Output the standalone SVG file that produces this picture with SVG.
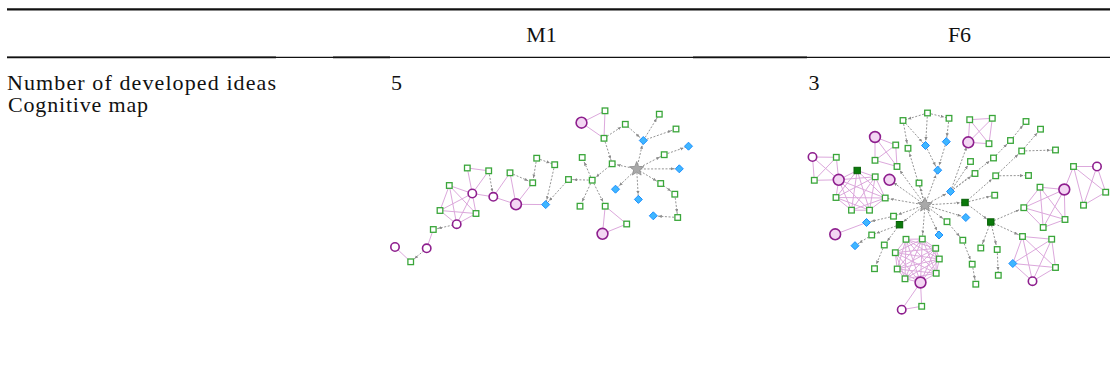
<svg xmlns="http://www.w3.org/2000/svg" xmlns:xlink="http://www.w3.org/1999/xlink" width="1112" height="371" viewBox="0 0 1112 371">
  <style>
    .txt { font-family: "Liberation Serif", "Times New Roman", serif; font-size: 22px; fill: #111; }
    .rule { stroke: #111; fill: none; }
    .de { stroke: #959595; stroke-width: 1; stroke-dasharray: 2 1.6; fill: none; marker-end: url(#ah); }
    .pe { stroke: #dca8dc; stroke-width: 1; fill: none; }
    .sq { fill: #ffffff; stroke: #3aa63a; stroke-width: 1.3; }
    .dg { fill: #0b7a0b; stroke: #066006; stroke-width: 1; }
    .dia { fill: #3fb6ff; stroke: #1d8fff; stroke-width: 1; }
    .co { fill: #ffffff; stroke: #8e1f8e; stroke-width: 1.6; }
    .cf { fill: #f3d6f3; stroke: #8e1f8e; stroke-width: 1.6; }
    .st { fill: #a9a9a9; stroke: #8a8a8a; stroke-width: 0.8; }
  </style>
  <defs>
    <marker id="ah" markerUnits="userSpaceOnUse" markerWidth="9" markerHeight="4" refX="8.5" refY="1.6" orient="auto">
      <path d="M0,0 L3.4,1.6 L0,3.2 Z" fill="#8a8a8a"/>
    </marker>
    <rect id="sq" class="sq" x="-2.8" y="-2.8" width="5.6" height="5.6"/>
    <rect id="dg" class="dg" x="-3.2" y="-3.2" width="6.4" height="6.4"/>
    <path id="dia" class="dia" d="M0,-4 L4,0 L0,4 L-4,0 Z"/>
    <circle id="co" class="co" r="4.2"/>
    <circle id="cf" class="cf" r="5.4"/>
    <path id="st" class="st" d="M0,-7.5 L1.88,-2.59 L7.13,-2.32 L3.04,0.99 L4.41,6.07 L0,3.2 L-4.41,6.07 L-3.04,0.99 L-7.13,-2.32 L-1.88,-2.59 Z"/>
  </defs>

  <!-- table rules -->
  <g id="table">
    <line class="rule" x1="7" y1="9.3" x2="1110" y2="9.3" stroke-width="2.2"/>
    <line class="rule" x1="7" y1="57.4" x2="1110" y2="57.4" stroke-width="1.4" stroke="#2a2a2a"/>
    <line class="rule" x1="7" y1="57.4" x2="276" y2="57.4" stroke-width="1.9"/>
    <line class="rule" x1="333" y1="57.4" x2="390" y2="57.4" stroke-width="1.9"/>
    <line class="rule" x1="693" y1="57.4" x2="807" y2="57.4" stroke-width="1.9"/>
  </g>

  <!-- table text -->
  <g id="labels">
    <text class="txt" x="541.5" y="41.7" text-anchor="middle">M1</text>
    <text class="txt" x="959.5" y="41.7" text-anchor="middle">F6</text>
    <text class="txt" x="7" y="90" textLength="269" lengthAdjust="spacing">Number of developed ideas</text>
    <text class="txt" x="8" y="112" textLength="140" lengthAdjust="spacing">Cognitive map</text>
    <text class="txt" x="391" y="90">5</text>
    <text class="txt" x="808.5" y="90">3</text>
  </g>

  <!-- M1 map: connectors -->
  <g id="m1-connectors">
    <path class="pe" d="M581.5 122.7 L605 110.8 L604 138.3 Z"/>
    <path class="pe" d="M605.2 206.2 L626.7 224 L602.5 233.8 Z"/>
    <path class="pe" d="M510 172.8 L516 204.3 M510 172.8 L493.3 196.8 M532.7 182.8 L516 204.3 M516 204.3 L545.7 204.6 M493.3 196.8 L516 204.3"/>
    <path class="pe" d="M467.3 168 L488.7 170.8 L472.3 193.5 Z M472.3 193.5 L493.3 196.8"/>
    <path class="pe" d="M449.3 185.5 L472.3 193.5 L476 213.5 L456.7 224.2 L440 210.5 Z M449.3 185.5 L476 213.5 L440 210.5 L472.3 193.5 L456.7 224.2 Z"/>
    <path class="pe" d="M433.3 229.5 L426.7 248.3 M410.7 261.8 L395 247"/>
    <line class="de" x1="604" y1="138.3" x2="625.3" y2="124.3"/>
    <line class="de" x1="625.3" y1="124.3" x2="643.3" y2="140.5"/>
    <line class="de" x1="643.3" y1="140.5" x2="659.3" y2="114.2"/>
    <line class="de" x1="643.3" y1="140.5" x2="676" y2="129"/>
    <line class="de" x1="604" y1="138.3" x2="612.2" y2="163.8"/>
    <line class="de" x1="636.7" y1="169" x2="612.2" y2="163.8"/>
    <line class="de" x1="636.7" y1="169" x2="643.3" y2="140.5"/>
    <line class="de" x1="636.7" y1="169" x2="664.2" y2="154.7"/>
    <line class="de" x1="664.2" y1="154.7" x2="688.5" y2="146.2"/>
    <line class="de" x1="636.7" y1="169" x2="679.3" y2="168.8"/>
    <line class="de" x1="636.7" y1="169" x2="660.7" y2="183.5"/>
    <line class="de" x1="660.7" y1="183.5" x2="674.8" y2="194.2"/>
    <line class="de" x1="674.8" y1="194.2" x2="677.7" y2="217.5"/>
    <line class="de" x1="677.7" y1="217.5" x2="653.3" y2="215.8"/>
    <line class="de" x1="636.7" y1="169" x2="638.4" y2="199.4"/>
    <line class="de" x1="636.7" y1="169" x2="615.5" y2="189.2"/>
    <line class="de" x1="612.2" y1="163.8" x2="592.2" y2="180.2"/>
    <line class="de" x1="592.2" y1="180.2" x2="582.2" y2="157.5"/>
    <line class="de" x1="592.2" y1="180.2" x2="568.5" y2="179.5"/>
    <line class="de" x1="592.2" y1="180.2" x2="580" y2="206.2"/>
    <line class="de" x1="592.2" y1="180.2" x2="605.2" y2="206.2"/>
    <line class="de" x1="568.5" y1="179.5" x2="545.7" y2="204.6"/>
    <line class="de" x1="536.7" y1="158.2" x2="554.7" y2="164.7"/>
    <line class="de" x1="536.7" y1="158.2" x2="532.7" y2="182.8"/>
    <line class="de" x1="554.7" y1="164.7" x2="545.7" y2="204.6"/>
    <line class="de" x1="510" y1="172.8" x2="532.7" y2="182.8"/>
    <line class="de" x1="488.7" y1="170.8" x2="493.3" y2="196.8"/>
    <line class="de" x1="456.7" y1="224.2" x2="433.3" y2="229.5"/>
    <line class="de" x1="426.7" y1="248.3" x2="410.7" y2="261.8"/>
  </g>

  <!-- M1 map: nodes -->
  <g id="m1-s" transform="translate(636.7 169)"><use xlink:href="#st"/></g>
  <g id="m1-c1" transform="translate(581.5 122.7)"><use xlink:href="#cf"/></g>
  <g id="m1-g1" transform="translate(605 110.8)"><use xlink:href="#sq"/></g>
  <g id="m1-g2" transform="translate(625.3 124.3)"><use xlink:href="#sq"/></g>
  <g id="m1-g3" transform="translate(659.3 114.2)"><use xlink:href="#sq"/></g>
  <g id="m1-d1" transform="translate(643.3 140.5)"><use xlink:href="#dia"/></g>
  <g id="m1-g4" transform="translate(676 129)"><use xlink:href="#sq"/></g>
  <g id="m1-g5" transform="translate(604 138.3)"><use xlink:href="#sq"/></g>
  <g id="m1-d2" transform="translate(688.5 146.2)"><use xlink:href="#dia"/></g>
  <g id="m1-g6" transform="translate(664.2 154.7)"><use xlink:href="#sq"/></g>
  <g id="m1-d3" transform="translate(679.3 168.8)"><use xlink:href="#dia"/></g>
  <g id="m1-g7" transform="translate(612.2 163.8)"><use xlink:href="#sq"/></g>
  <g id="m1-g8" transform="translate(582.2 157.5)"><use xlink:href="#sq"/></g>
  <g id="m1-g9" transform="translate(592.2 180.2)"><use xlink:href="#sq"/></g>
  <g id="m1-g10" transform="translate(568.5 179.5)"><use xlink:href="#sq"/></g>
  <g id="m1-d4" transform="translate(615.5 189.2)"><use xlink:href="#dia"/></g>
  <g id="m1-g11" transform="translate(660.7 183.5)"><use xlink:href="#sq"/></g>
  <g id="m1-g12" transform="translate(674.8 194.2)"><use xlink:href="#sq"/></g>
  <g id="m1-d5" transform="translate(638.4 199.4)"><use xlink:href="#dia"/></g>
  <g id="m1-d6" transform="translate(653.3 215.8)"><use xlink:href="#dia"/></g>
  <g id="m1-g13" transform="translate(677.7 217.5)"><use xlink:href="#sq"/></g>
  <g id="m1-g14" transform="translate(580 206.2)"><use xlink:href="#sq"/></g>
  <g id="m1-g15" transform="translate(605.2 206.2)"><use xlink:href="#sq"/></g>
  <g id="m1-g16" transform="translate(626.7 224)"><use xlink:href="#sq"/></g>
  <g id="m1-c2" transform="translate(602.5 233.8)"><use xlink:href="#cf"/></g>
  <g id="m1-d7" transform="translate(545.7 204.6)"><use xlink:href="#dia"/></g>
  <g id="m1-g17" transform="translate(536.7 158.2)"><use xlink:href="#sq"/></g>
  <g id="m1-g18" transform="translate(554.7 164.7)"><use xlink:href="#sq"/></g>
  <g id="m1-g19" transform="translate(532.7 182.8)"><use xlink:href="#sq"/></g>
  <g id="m1-g20" transform="translate(510 172.8)"><use xlink:href="#sq"/></g>
  <g id="m1-c3" transform="translate(516 204.3)"><use xlink:href="#cf"/></g>
  <g id="m1-c4" transform="translate(493.3 196.8)"><use xlink:href="#co"/></g>
  <g id="m1-g21" transform="translate(488.7 170.8)"><use xlink:href="#sq"/></g>
  <g id="m1-g22" transform="translate(467.3 168)"><use xlink:href="#sq"/></g>
  <g id="m1-c5" transform="translate(472.3 193.5)"><use xlink:href="#co"/></g>
  <g id="m1-g23" transform="translate(449.3 185.5)"><use xlink:href="#sq"/></g>
  <g id="m1-g24" transform="translate(440 210.5)"><use xlink:href="#sq"/></g>
  <g id="m1-g25" transform="translate(476 213.5)"><use xlink:href="#sq"/></g>
  <g id="m1-c6" transform="translate(456.7 224.2)"><use xlink:href="#co"/></g>
  <g id="m1-g26" transform="translate(433.3 229.5)"><use xlink:href="#sq"/></g>
  <g id="m1-c7" transform="translate(426.7 248.3)"><use xlink:href="#co"/></g>
  <g id="m1-c8" transform="translate(395 247)"><use xlink:href="#co"/></g>
  <g id="m1-g27" transform="translate(410.7 261.8)"><use xlink:href="#sq"/></g>

  <!-- F6 map: connectors -->
  <g id="f6-connectors">
    <path class="pe" d="M969.7 119.7 L992.3 118.3 L989 143.7 L968.3 142.3 Z M969.7 119.7 L989 143.7 M992.3 118.3 L968.3 142.3"/>
    <path class="pe" d="M875 137 L895.7 145 L897 166.5 L875 160.3 Z M875 137 L897 166.5 M895.7 145 L875 160.3"/>
    <path class="pe" d="M812.5 157 L836.3 157.3 L838.7 179.8 L814.3 180.3 Z M812.5 157 L838.7 179.8 M836.3 157.3 L814.3 180.3"/>
    <path class="pe" d="M857.2 170.5 L875.2 176.8 L885.2 198 L869.5 210.2 L851.5 210.2 L836 197.5 L838.7 179.8 Z M857.2 170.5 L885.2 198 L851.5 210.2 L838.7 179.8 L875.2 176.8 L869.5 210.2 L836 197.5 Z M857.2 170.5 L869.5 210.2 L838.7 179.8 L885.2 198 L836 197.5 L875.2 176.8 L851.5 210.2 Z"/>
    <path class="pe" d="M1040 187.2 L1064.3 189.5 L1065 219.5 L1043.2 227.5 L1023.8 207.7 Z M1040 187.2 L1065 219.5 L1023.8 207.7 L1064.3 189.5 L1043.2 227.5 Z M1064.3 189.5 L1073.5 166.5"/>
    <path class="pe" d="M1073.5 166.5 L1097 166.5 L1105.7 192.2 L1083.5 205.2 Z M1073.5 166.5 L1105.7 192.2 M1097 166.5 L1083.5 205.2"/>
    <path class="pe" d="M1022.5 236.5 L1051.7 239.2 L1055.5 267.5 L1032.5 281.2 L1012.8 263.5 Z M1022.5 236.5 L1055.5 267.5 L1012.8 263.5 L1051.7 239.2 L1032.5 281.2 Z"/>
    <path class="pe" d="M906 239.3 L922.3 239 L935.7 248.3 L939.3 259 L936.2 273.3 L920.5 282.5 L905 278.8 L897.2 269 L895.3 252.7 Z M906 239.3 L935.7 248.3 L936.2 273.3 L905 278.8 L895.3 252.7 L922.3 239 L939.3 259 L920.5 282.5 L897.2 269 Z M906 239.3 L939.3 259 L905 278.8 Z M922.3 239 L936.2 273.3 L897.2 269 Z M935.7 248.3 L920.5 282.5 L895.3 252.7 Z M906 239.3 L936.2 273.3 L895.3 252.7 L939.3 259 L897.2 269 L935.7 248.3 L905 278.8 L922.3 239 L920.5 282.5 Z"/>
    <path class="pe" d="M920.5 282.5 L921.7 306.3 L901.7 309.7 Z M866.5 222.5 L835.2 234.3"/>
    <line class="de" x1="927.5" y1="113" x2="903" y2="120.5"/>
    <line class="de" x1="927.5" y1="113" x2="949" y2="118.3"/>
    <line class="de" x1="927.5" y1="113" x2="925.5" y2="145.5"/>
    <line class="de" x1="903" y1="120.5" x2="925.5" y2="145.5"/>
    <line class="de" x1="903" y1="120.5" x2="908" y2="148.3"/>
    <line class="de" x1="949" y1="118.3" x2="946.3" y2="141.7"/>
    <line class="de" x1="925.5" y1="145.5" x2="937.7" y2="170.2"/>
    <line class="de" x1="946.3" y1="141.7" x2="937.7" y2="170.2"/>
    <line class="de" x1="925" y1="205" x2="937.7" y2="170.2"/>
    <line class="de" x1="925" y1="205" x2="908" y2="148.3"/>
    <line class="de" x1="925" y1="205" x2="919" y2="183"/>
    <line class="de" x1="925" y1="205" x2="897" y2="166.5"/>
    <line class="de" x1="925" y1="205" x2="889.5" y2="179.8"/>
    <line class="de" x1="925" y1="205" x2="885.2" y2="198"/>
    <line class="de" x1="925" y1="205" x2="950.5" y2="191.5"/>
    <line class="de" x1="950.5" y1="191.5" x2="968.3" y2="142.3"/>
    <line class="de" x1="950.5" y1="191.5" x2="970.5" y2="161.5"/>
    <line class="de" x1="950.5" y1="191.5" x2="975" y2="173.5"/>
    <line class="de" x1="950.5" y1="191.5" x2="993.5" y2="158"/>
    <line class="de" x1="993.5" y1="158" x2="1010.5" y2="140.5"/>
    <line class="de" x1="1010.5" y1="140.5" x2="1026" y2="121.5"/>
    <line class="de" x1="925" y1="205" x2="965" y2="202.5"/>
    <line class="de" x1="965" y1="202.5" x2="995.7" y2="175.8"/>
    <line class="de" x1="995.7" y1="175.8" x2="1028.5" y2="175.5"/>
    <line class="de" x1="995.7" y1="175.8" x2="1021.7" y2="151"/>
    <line class="de" x1="1021.7" y1="151" x2="1040.5" y2="129.2"/>
    <line class="de" x1="1021.7" y1="151" x2="1055.5" y2="150"/>
    <line class="de" x1="965" y1="202.5" x2="994.7" y2="195.2"/>
    <line class="de" x1="965" y1="202.5" x2="990.8" y2="222"/>
    <line class="de" x1="990.8" y1="222" x2="1023.8" y2="207.7"/>
    <line class="de" x1="990.8" y1="222" x2="1022.5" y2="236.5"/>
    <line class="de" x1="990.8" y1="222" x2="980.8" y2="248"/>
    <line class="de" x1="990.8" y1="222" x2="997.2" y2="249.5"/>
    <line class="de" x1="997.2" y1="249.5" x2="998.3" y2="275.3"/>
    <line class="de" x1="925" y1="205" x2="965.8" y2="217.5"/>
    <line class="de" x1="925" y1="205" x2="947" y2="221.7"/>
    <line class="de" x1="947" y1="221.7" x2="962.8" y2="240.2"/>
    <line class="de" x1="962.8" y1="240.2" x2="972.2" y2="264.2"/>
    <line class="de" x1="972.2" y1="264.2" x2="975.8" y2="284.2"/>
    <line class="de" x1="925" y1="205" x2="939" y2="235"/>
    <line class="de" x1="925" y1="205" x2="922.3" y2="239"/>
    <line class="de" x1="925" y1="205" x2="899.5" y2="224.7"/>
    <line class="de" x1="899.5" y1="224.7" x2="871.7" y2="235"/>
    <line class="de" x1="871.7" y1="235" x2="855" y2="245.7"/>
    <line class="de" x1="899.5" y1="224.7" x2="884.3" y2="245"/>
    <line class="de" x1="884.3" y1="245" x2="874.5" y2="268.7"/>
    <line class="de" x1="925" y1="205" x2="893.5" y2="216.2"/>
    <line class="de" x1="893.5" y1="216.2" x2="866.5" y2="222.5"/>
  </g>

  <!-- F6 map: nodes -->
  <g id="f6-s" transform="translate(925 205)"><use xlink:href="#st"/></g>
  <g id="f6-a1" transform="translate(927.5 113)"><use xlink:href="#sq"/></g>
  <g id="f6-a2" transform="translate(903 120.5)"><use xlink:href="#sq"/></g>
  <g id="f6-a3" transform="translate(949 118.3)"><use xlink:href="#sq"/></g>
  <g id="f6-d1" transform="translate(925.5 145.5)"><use xlink:href="#dia"/></g>
  <g id="f6-d2" transform="translate(946.3 141.7)"><use xlink:href="#dia"/></g>
  <g id="f6-a4" transform="translate(908 148.3)"><use xlink:href="#sq"/></g>
  <g id="f6-d3" transform="translate(937.7 170.2)"><use xlink:href="#dia"/></g>
  <g id="f6-a5" transform="translate(919 183)"><use xlink:href="#sq"/></g>
  <g id="f6-b1" transform="translate(969.7 119.7)"><use xlink:href="#sq"/></g>
  <g id="f6-b2" transform="translate(992.3 118.3)"><use xlink:href="#sq"/></g>
  <g id="f6-bc" transform="translate(968.3 142.3)"><use xlink:href="#cf"/></g>
  <g id="f6-b3" transform="translate(989 143.7)"><use xlink:href="#sq"/></g>
  <g id="f6-cc" transform="translate(875 137)"><use xlink:href="#cf"/></g>
  <g id="f6-c1" transform="translate(895.7 145)"><use xlink:href="#sq"/></g>
  <g id="f6-c2" transform="translate(875 160.3)"><use xlink:href="#sq"/></g>
  <g id="f6-c3" transform="translate(897 166.5)"><use xlink:href="#sq"/></g>
  <g id="f6-co" transform="translate(812.5 157)"><use xlink:href="#co"/></g>
  <g id="f6-h1" transform="translate(836.3 157.3)"><use xlink:href="#sq"/></g>
  <g id="f6-h2" transform="translate(814.3 180.3)"><use xlink:href="#sq"/></g>
  <g id="f6-hc" transform="translate(838.7 179.8)"><use xlink:href="#cf"/></g>
  <g id="f6-dg1" transform="translate(857.2 170.5)"><use xlink:href="#dg"/></g>
  <g id="f6-k1" transform="translate(875.2 176.8)"><use xlink:href="#sq"/></g>
  <g id="f6-k2" transform="translate(836 197.5)"><use xlink:href="#sq"/></g>
  <g id="f6-k3" transform="translate(885.2 198)"><use xlink:href="#sq"/></g>
  <g id="f6-k4" transform="translate(851.5 210.2)"><use xlink:href="#sq"/></g>
  <g id="f6-k5" transform="translate(869.5 210.2)"><use xlink:href="#sq"/></g>
  <g id="f6-cf2" transform="translate(889.5 179.8)"><use xlink:href="#cf"/></g>
  <g id="f6-d4" transform="translate(950.5 191.5)"><use xlink:href="#dia"/></g>
  <g id="f6-e1" transform="translate(975 173.5)"><use xlink:href="#sq"/></g>
  <g id="f6-e2" transform="translate(970.5 161.5)"><use xlink:href="#sq"/></g>
  <g id="f6-e3" transform="translate(993.5 158)"><use xlink:href="#sq"/></g>
  <g id="f6-e4" transform="translate(1010.5 140.5)"><use xlink:href="#sq"/></g>
  <g id="f6-e5" transform="translate(1026 121.5)"><use xlink:href="#sq"/></g>
  <g id="f6-e6" transform="translate(1040.5 129.2)"><use xlink:href="#sq"/></g>
  <g id="f6-e7" transform="translate(1021.7 151)"><use xlink:href="#sq"/></g>
  <g id="f6-e8" transform="translate(1055.5 150)"><use xlink:href="#sq"/></g>
  <g id="f6-e9" transform="translate(995.7 175.8)"><use xlink:href="#sq"/></g>
  <g id="f6-e10" transform="translate(1028.5 175.5)"><use xlink:href="#sq"/></g>
  <g id="f6-dg2" transform="translate(965 202.5)"><use xlink:href="#dg"/></g>
  <g id="f6-e11" transform="translate(994.7 195.2)"><use xlink:href="#sq"/></g>
  <g id="f6-dg3" transform="translate(990.8 222)"><use xlink:href="#dg"/></g>
  <g id="f6-d5" transform="translate(965.8 217.5)"><use xlink:href="#dia"/></g>
  <g id="f6-r1" transform="translate(1023.8 207.7)"><use xlink:href="#sq"/></g>
  <g id="f6-r2" transform="translate(1040 187.2)"><use xlink:href="#sq"/></g>
  <g id="f6-rc" transform="translate(1064.3 189.5)"><use xlink:href="#cf"/></g>
  <g id="f6-r3" transform="translate(1043.2 227.5)"><use xlink:href="#sq"/></g>
  <g id="f6-r4" transform="translate(1065 219.5)"><use xlink:href="#sq"/></g>
  <g id="f6-m1" transform="translate(1073.5 166.5)"><use xlink:href="#sq"/></g>
  <g id="f6-mo" transform="translate(1097 166.5)"><use xlink:href="#co"/></g>
  <g id="f6-m2" transform="translate(1105.7 192.2)"><use xlink:href="#sq"/></g>
  <g id="f6-m3" transform="translate(1083.5 205.2)"><use xlink:href="#sq"/></g>
  <g id="f6-n1" transform="translate(1022.5 236.5)"><use xlink:href="#sq"/></g>
  <g id="f6-n2" transform="translate(1051.7 239.2)"><use xlink:href="#sq"/></g>
  <g id="f6-d6" transform="translate(1012.8 263.5)"><use xlink:href="#dia"/></g>
  <g id="f6-n3" transform="translate(1055.5 267.5)"><use xlink:href="#sq"/></g>
  <g id="f6-no" transform="translate(1032.5 281.2)"><use xlink:href="#co"/></g>
  <g id="f6-p1" transform="translate(980.8 248)"><use xlink:href="#sq"/></g>
  <g id="f6-p2" transform="translate(997.2 249.5)"><use xlink:href="#sq"/></g>
  <g id="f6-p3" transform="translate(998.3 275.3)"><use xlink:href="#sq"/></g>
  <g id="f6-q0" transform="translate(947 221.7)"><use xlink:href="#sq"/></g>
  <g id="f6-q1" transform="translate(962.8 240.2)"><use xlink:href="#sq"/></g>
  <g id="f6-q2" transform="translate(972.2 264.2)"><use xlink:href="#sq"/></g>
  <g id="f6-q3" transform="translate(975.8 284.2)"><use xlink:href="#sq"/></g>
  <g id="f6-d9" transform="translate(939 235)"><use xlink:href="#dia"/></g>
  <g id="f6-t1" transform="translate(893.5 216.2)"><use xlink:href="#sq"/></g>
  <g id="f6-dg4" transform="translate(899.5 224.7)"><use xlink:href="#dg"/></g>
  <g id="f6-d7" transform="translate(866.5 222.5)"><use xlink:href="#dia"/></g>
  <g id="f6-tc" transform="translate(835.2 234.3)"><use xlink:href="#cf"/></g>
  <g id="f6-t2" transform="translate(871.7 235)"><use xlink:href="#sq"/></g>
  <g id="f6-d8" transform="translate(855 245.7)"><use xlink:href="#dia"/></g>
  <g id="f6-t3" transform="translate(884.3 245)"><use xlink:href="#sq"/></g>
  <g id="f6-t4" transform="translate(874.5 268.7)"><use xlink:href="#sq"/></g>
  <g id="f6-w1" transform="translate(906 239.3)"><use xlink:href="#sq"/></g>
  <g id="f6-w2" transform="translate(922.3 239)"><use xlink:href="#sq"/></g>
  <g id="f6-w3" transform="translate(935.7 248.3)"><use xlink:href="#sq"/></g>
  <g id="f6-w4" transform="translate(939.3 259)"><use xlink:href="#sq"/></g>
  <g id="f6-w5" transform="translate(936.2 273.3)"><use xlink:href="#sq"/></g>
  <g id="f6-wc" transform="translate(920.5 282.5)"><use xlink:href="#cf"/></g>
  <g id="f6-w6" transform="translate(905 278.8)"><use xlink:href="#sq"/></g>
  <g id="f6-w7" transform="translate(897.2 269)"><use xlink:href="#sq"/></g>
  <g id="f6-w8" transform="translate(895.3 252.7)"><use xlink:href="#sq"/></g>
  <g id="f6-x1" transform="translate(921.7 306.3)"><use xlink:href="#sq"/></g>
  <g id="f6-xo" transform="translate(901.7 309.7)"><use xlink:href="#co"/></g>
</svg>
